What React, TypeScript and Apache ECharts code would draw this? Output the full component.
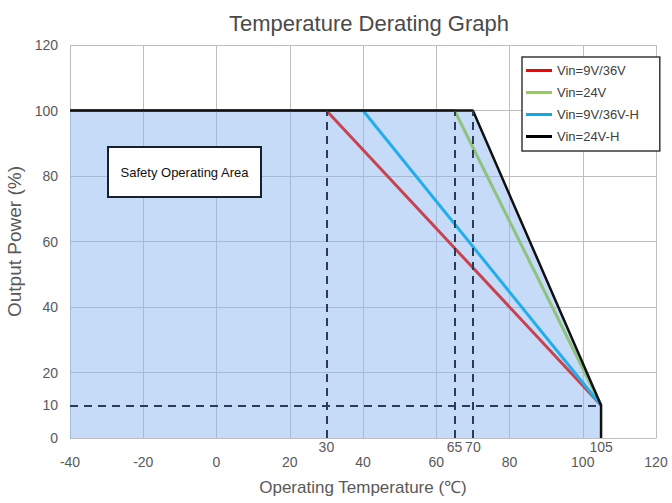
import React, { useEffect, useRef } from "react";
import * as echarts from "echarts";

const seriesNames = ["Vin=9V/36V", "Vin=24V", "Vin=9V/36V-H", "Vin=24V-H"];
const lineColors = ["#c8434f", "#8fc27c", "#22aeea", "#111111"];
const legendColors = ["#ff0000", "#92d050", "#00b0f0", "#000000"];

const redLine = [[-40, 100], [30, 100], [105, 10]];
const greenLine = [[-40, 100], [65, 100], [105, 10]];
const blueLine = [[-40, 100], [40, 100], [105, 10]];
const blackLine = [[-40, 100], [70, 100], [105, 10], [105, 0]];
const areaPoints = [[-40, 100], [70, 100], [105, 10], [105, 0]];

const xMin = -40;
const xMax = 120;
const xStep = 20;
const yMin = 0;
const yMax = 120;
const yStep = 20;
const yLabelValues = [0, 10, 20, 40, 60, 80, 100, 120];
const xExtraLabels = [30, 65, 70, 105];
const dashedVerticals = [30, 65, 70];
const dashedHorizontal = { y: 10, from: -40, to: 105 };
const dashedTop = 100;

export default function App() {
  const ref = useRef<HTMLDivElement>(null);
  useEffect(() => {
    if (!ref.current) return;
    const chart = echarts.init(ref.current, null, { renderer: "svg" });
    const font = "'Liberation Sans', Arial, sans-serif";
    const lineData = [redLine, greenLine, blueLine, blackLine];
    const widths = [3, 3, 3, 2.5];

    const markData: any[] = dashedVerticals.map((x) => [
      { coord: [x, 0] },
      { coord: [x, dashedTop] },
    ]);
    markData.push([
      { coord: [dashedHorizontal.from, dashedHorizontal.y] },
      { coord: [dashedHorizontal.to, dashedHorizontal.y] },
    ]);

    const series: any[] = [
      {
        name: "area",
        type: "line",
        data: areaPoints,
        symbol: "none",
        lineStyle: { width: 0 },
        areaStyle: { color: "rgba(141,183,241,0.5)", opacity: 1 },
        silent: true,
        z: 1,
        markLine: {
          silent: true,
          symbol: "none",
          label: { show: false },
          lineStyle: { color: "#2b3a55", width: 2, type: [8, 6] },
          data: markData,
        },
      },
      ...seriesNames.map((name, i) => ({
        name,
        type: "line",
        data: lineData[i],
        symbol: "none",
        lineStyle: { color: lineColors[i], width: widths[i] },
        itemStyle: { color: lineColors[i] },
        z: 3,
      })),
    ];

    chart.setOption({
      animation: false,
      title: {
        text: "Temperature Derating Graph",
        left: 364,
        top: 7,
        textAlign: "center",
        textStyle: { fontFamily: font, fontSize: 22, fontWeight: "normal", color: "#4a4a4a" },
      },
      legend: {
        orient: "vertical",
        left: 522,
        top: 57,
        padding: [7, 21, 8, 4],
        itemGap: 9,
        itemWidth: 26,
        itemHeight: 3,
        icon: "rect",
        backgroundColor: "#ffffff",
        borderColor: "#3a3a3a",
        borderWidth: 1.5,
        textStyle: { fontFamily: font, fontSize: 13, color: "#404040" },
        data: seriesNames.map((name, i) => ({
          name,
          icon: "rect",
          itemStyle: { color: legendColors[i], borderWidth: 0 },
        })),
      },
      grid: { left: 70, right: 16, top: 45, bottom: 65, outerBoundsMode: "none" },
      xAxis: [
        {
          type: "value",
          min: xMin,
          max: xMax,
          interval: xStep,
          name: "Operating Temperature (℃)",
          nameLocation: "middle",
          nameGap: 41,
          nameTextStyle: { fontFamily: font, fontSize: 17, color: "#595959" },
          axisLine: { show: true, lineStyle: { color: "#bfbfbf", width: 1 } },
          axisTick: { show: false },
          axisLabel: { fontFamily: font, fontSize: 14, color: "#595959", margin: 17 },
          splitLine: { show: true, lineStyle: { color: "#bdbdbd", width: 1 } },
        },
        {
          type: "value",
          min: xMin,
          max: xMax,
          position: "bottom",
          axisLine: { show: false },
          axisTick: { show: false },
          splitLine: { show: false },
          axisLabel: {
            customValues: xExtraLabels,
            fontFamily: font,
            fontSize: 14,
            color: "#595959",
            margin: 2,
          },
        },
      ],
      yAxis: {
        type: "value",
        min: yMin,
        max: yMax,
        interval: yStep,
        name: "Output Power (%)",
        nameLocation: "middle",
        nameGap: 45,
        nameTextStyle: { fontFamily: font, fontSize: 19, color: "#595959" },
        axisLine: { show: false },
        axisTick: { show: false },
        axisLabel: {
          customValues: yLabelValues,
          fontFamily: font,
          fontSize: 14,
          color: "#595959",
          margin: 12,
        },
        splitLine: { show: true, lineStyle: { color: "#bdbdbd", width: 1 } },
      },
      graphic: [
        {
          type: "rect",
          shape: { x: 108, y: 147, width: 153, height: 50 },
          style: { fill: "#ffffff", stroke: "#16212e", lineWidth: 2 },
          z: 10,
        },
        {
          type: "text",
          x: 184.5,
          y: 172,
          style: {
            text: "Safety Operating Area",
            fontFamily: font,
            fontSize: 13,
            fill: "#111111",
            align: "center",
            verticalAlign: "middle",
          },
          z: 11,
        },
      ],
      series,
    });
    return () => chart.dispose();
  }, []);
  return (
    <div
      ref={ref}
      style={{ position: "fixed", left: 0, top: 0, width: 672, height: 503, background: "#ffffff" }}
    />
  );
}
